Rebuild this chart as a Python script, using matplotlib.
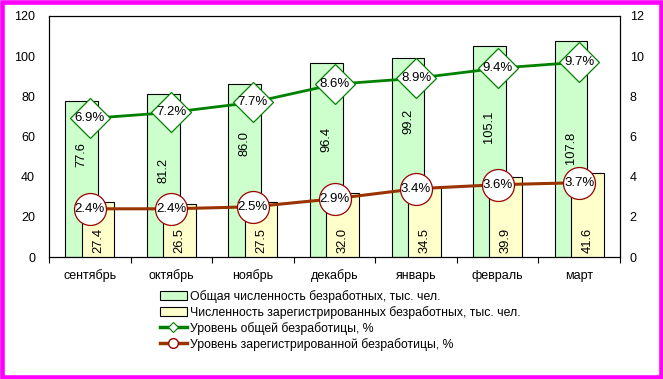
import matplotlib
matplotlib.use("Agg")
import matplotlib.pyplot as plt
from matplotlib.patches import Rectangle, Patch
from matplotlib.lines import Line2D
import numpy as np

plt.rcParams['font.family'] = ['Liberation Sans', 'DejaVu Sans']

months = ["сентябрь", "октябрь", "ноябрь", "декабрь", "январь", "февраль", "март"]
total_unemployed = [77.6, 81.2, 86.0, 96.4, 99.2, 105.1, 107.8]
registered_unemployed = [27.4, 26.5, 27.5, 32.0, 34.5, 39.9, 41.6]
total_rate = [6.9, 7.2, 7.7, 8.6, 8.9, 9.4, 9.7]
registered_rate = [2.4, 2.4, 2.5, 2.9, 3.4, 3.6, 3.7]
left_ticks = [0, 20, 40, 60, 80, 100, 120]
right_ticks = [0, 2, 4, 6, 8, 10, 12]
legend_labels = ["Общая численность безработных, тыс. чел.",
                 "Численность зарегистрированных безработных, тыс. чел.",
                 "Уровень общей безработицы, %",
                 "Уровень зарегистрированной безработицы, %"]
# vertical placement of the rotated labels inside the green bars (left-axis units)
green_label_pos = [50.8, 43.3, 56.3, 58.3, 67.5, 65.0, 54.3]
yellow_label_pos = 8.3

W, H = 663, 379
fig = plt.figure(figsize=(W / 100, H / 100), dpi=100)
ax = fig.add_axes([49 / W, 1 - 257 / H, (620 - 49) / W, (257 - 16) / H])
ax2 = ax.twinx()

x = np.arange(len(months))
bw = 0.40
off = 0.10
green_fill = "#CCFFCC"
yellow_fill = "#FFFFCC"
ax.bar(x - off, total_unemployed, width=bw, color=green_fill, edgecolor="black", linewidth=0.8, zorder=2)
ax.bar(x + off, registered_unemployed, width=bw, color=yellow_fill, edgecolor="black", linewidth=0.8, zorder=3)

for i in range(len(months)):
    ax.text(x[i] - off, green_label_pos[i], f"{total_unemployed[i]:.1f}", rotation=90,
            ha="center", va="center", fontsize=9.3, zorder=5)
    ax.text(x[i] + off, yellow_label_pos, f"{registered_unemployed[i]:.1f}", rotation=90,
            ha="center", va="center", fontsize=9.3, zorder=5)

ax.set_xlim(-0.5, len(months) - 0.5)
ax.set_ylim(0, 120)
ax2.set_ylim(0, 12)
ax.set_yticks(left_ticks)
ax2.set_yticks(right_ticks)
ax.tick_params(axis="y", length=0, labelsize=9, pad=10)
ax2.tick_params(axis="y", length=0, labelsize=9, pad=7)
ax.set_xticks(x)
ax.set_xticklabels(months)
ax.tick_params(axis="x", which="major", length=0, labelsize=9, pad=9)
ax.set_xticks(np.arange(-0.5, len(months), 1.0), minor=True)
ax.tick_params(axis="x", which="minor", length=4, width=0.8, direction="out")
for sp in list(ax.spines.values()) + list(ax2.spines.values()):
    sp.set_linewidth(0.8)

green_line = "#008000"
brown_line = "#993300"
ax2.plot(x, total_rate, color=green_line, linewidth=2, zorder=3)
ax2.plot(x, registered_rate, color=brown_line, linewidth=2.2, zorder=3)
ax2.plot(x, total_rate, linestyle="none", marker="D", markersize=20, markerfacecolor="white",
         markeredgecolor=green_line, markeredgewidth=0.9, zorder=4)
ax2.plot(x, registered_rate, linestyle="none", marker="o", markersize=23, markerfacecolor="white",
         markeredgecolor="#990000", markeredgewidth=0.9, zorder=4)
for i in range(len(months)):
    ax2.text(x[i], total_rate[i], f"{total_rate[i]:.1f}%", ha="center", va="center", fontsize=9.5, zorder=6)
    ax2.text(x[i], registered_rate[i], f"{registered_rate[i]:.1f}%", ha="center", va="center", fontsize=9.5, zorder=6)

handles = [
    Patch(facecolor=green_fill, edgecolor="black", linewidth=0.8),
    Patch(facecolor=yellow_fill, edgecolor="black", linewidth=0.8),
    Line2D([], [], color=green_line, linewidth=2.5, marker="D", markersize=5,
           markerfacecolor="white", markeredgecolor=green_line, markeredgewidth=0.8),
    Line2D([], [], color=brown_line, linewidth=2.5, marker="o", markersize=7,
           markerfacecolor="white", markeredgecolor="#990000", markeredgewidth=1),
]
fig.legend(handles, legend_labels, loc="upper left", bbox_to_anchor=(160 / W, 1 - 290 / H),
           frameon=False, fontsize=8.8, handlelength=2.2, handleheight=0.75,
           handletextpad=0.25, labelspacing=0.24, borderaxespad=0, borderpad=0)

bw_px = 4.6
fig.patches.append(Rectangle((bw_px / 2 / W, bw_px / 2 / H), 1 - bw_px / W, 1 - bw_px / H,
                             transform=fig.transFigure, fill=False, edgecolor="#FF00FF",
                             linewidth=bw_px * 0.72, zorder=10))

fig.savefig("out.png", dpi=100)
